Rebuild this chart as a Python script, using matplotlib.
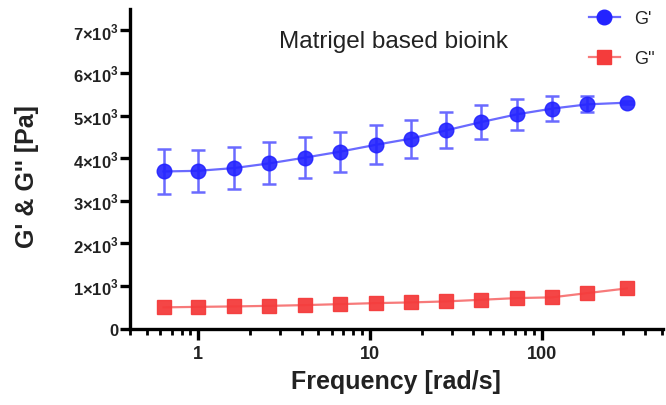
import numpy as np
import matplotlib
matplotlib.use("Agg")
import matplotlib.pyplot as plt
from matplotlib.ticker import FixedLocator, LogLocator, NullFormatter, FixedFormatter
from matplotlib.lines import Line2D

plt.rcParams['font.family'] = ['Liberation Sans', 'DejaVu Sans']
plt.rcParams['mathtext.fontset'] = 'custom'
plt.rcParams['mathtext.rm'] = 'Liberation Sans'
plt.rcParams['mathtext.bf'] = 'Liberation Sans:bold'

# Angular frequency sweep (rad/s)
frequency = [0.628, 1.0, 1.62, 2.6, 4.18, 6.71, 10.8, 17.3, 27.8, 44.6, 71.6, 115.0, 185.0, 314.0]

# Storage modulus G' (Pa) and its standard deviation
g_storage = [3690, 3705, 3770, 3880, 4015, 4155, 4315, 4460, 4655, 4850, 5030, 5165, 5265, 5305]
g_storage_sd = [520, 500, 495, 490, 490, 470, 455, 445, 425, 395, 360, 300, 190, 40]

# Loss modulus G'' (Pa)
g_loss = [500, 512, 522, 536, 553, 576, 600, 616, 640, 678, 718, 735, 835, 945]

y_ticks = [0, 1000, 2000, 3000, 4000, 5000, 6000, 7000]
y_tick_labels = ["0"] + ["%d×10$^{\\mathbf{3}}$" % k for k in range(1, 8)]
x_ticks = [1, 10, 100]
x_tick_labels = ["1", "10", "100"]

blue = "#2323ff"
blue_light = "#6a6aff"
red = "#f43c3c"
red_light = "#f77a7a"
text_color = "#222222"

fig = plt.figure(figsize=(6.66, 4.06), dpi=100)
ax = fig.add_axes([0.195, 0.188, 0.8005, 0.787])

ax.errorbar(frequency, g_storage, yerr=g_storage_sd, fmt='none',
            ecolor=blue_light, elinewidth=1.8, capsize=5, capthick=1.8, zorder=2)
ax.plot(frequency, g_storage, color=blue_light, lw=1.6, zorder=3)
ax.plot(frequency, g_storage, ls='none', marker='o', ms=10.5, color=blue,
        mec=blue, alpha=0.9, zorder=4)

ax.plot(frequency, g_loss, color=red_light, lw=1.6, zorder=3)
ax.plot(frequency, g_loss, ls='none', marker='s', ms=10, color=red,
        mec=red, alpha=0.95, zorder=4)

ax.set_xscale('log')
ax.set_xlim(0.4, 510)
ax.set_ylim(0, 7500)

ax.yaxis.set_major_locator(FixedLocator(y_ticks))
ax.yaxis.set_major_formatter(FixedFormatter(y_tick_labels))
ax.xaxis.set_major_locator(FixedLocator(x_ticks))
ax.xaxis.set_major_formatter(FixedFormatter(x_tick_labels))
ax.xaxis.set_minor_locator(LogLocator(base=10, subs=np.arange(2, 10), numticks=20))
ax.xaxis.set_minor_formatter(NullFormatter())

for side in ['top', 'right']:
    ax.spines[side].set_visible(False)
for side in ['left', 'bottom']:
    ax.spines[side].set_linewidth(2.4)

ax.tick_params(axis='y', which='major', direction='out', length=7, width=2.4,
               labelsize=12, pad=1)
ax.tick_params(axis='x', which='minor', direction='out', length=4, width=2.0)
ax.tick_params(axis='x', which='major', direction='out', length=8, width=2.4,
               labelsize=13, pad=4)
for lbl in ax.get_yticklabels() + ax.get_xticklabels():
    lbl.set_fontweight('bold')
    lbl.set_color(text_color)

ax.set_xlabel("Frequency [rad/s]", fontsize=18, fontweight='bold', labelpad=5,
              color=text_color)
ax.set_ylabel("G' & G'' [Pa]", fontsize=18, fontweight='bold',
              color=text_color)
ax.yaxis.set_label_coords(-0.17, 0.48)

ax.text(0.495, 0.9, "Matrigel based bioink", transform=ax.transAxes,
        ha='center', va='center', fontsize=17.5, color=text_color)

handles = [
    Line2D([], [], color=blue_light, lw=1.6, marker='o', ms=10.5, mfc=blue, mec=blue),
    Line2D([], [], color=red_light, lw=1.6, marker='s', ms=10, mfc=red, mec=red),
]
fig.legend(handles, ["G'", "G''"], loc='upper left', bbox_to_anchor=(0.868, 1.0),
           frameon=False, fontsize=13, handlelength=1.7, labelspacing=1.3,
           handletextpad=0.8, borderaxespad=0.2, labelcolor=text_color)

fig.savefig("out.png", dpi=100)
